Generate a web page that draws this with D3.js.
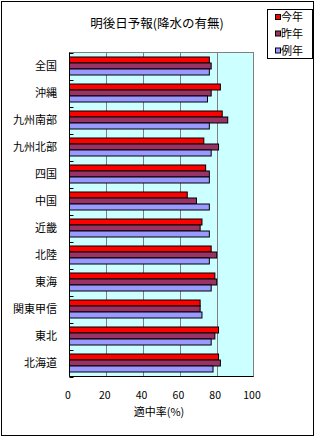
<!DOCTYPE html>
<html><head><meta charset="utf-8">
<script src="https://cdn.jsdelivr.net/npm/d3@7"></script>
<style>body{margin:0;background:#fff}svg{display:block}text{font-family:"Noto Sans CJK JP","Noto Sans",sans-serif;fill:#000}</style>
</head><body><svg id="c" width="316" height="438"></svg>
<script>
const categories = ["全国","沖縄","九州南部","九州北部","四国","中国","近畿","北陸","東海","関東甲信","東北","北海道"];
const seriesNames = ["今年","昨年","例年"];
const thisYear = [76,82,83,73,74,64,72,77,79,71,81,81];
const lastYear = [77,77,86,81,76,69,71,80,80,71,79,82];
const normalYear = [76,75,76,77,76,76,76,76,77,72,77,78];
const xTicks = [0,20,40,60,80,100];
const colors = ["#FF0000","#993366","#9999FF"];
const title = "明後日予報(降水の有無)";
const xTitle = "適中率(%)";

const series = [thisYear, lastYear, normalYear];
const svg = d3.select("#c");
svg.append("rect").attr("x",1.5).attr("y",1.5).attr("width",312).attr("height",434).attr("fill","#fff").attr("stroke","#000").attr("stroke-width",1);

const L=69.5, R=253.5, T=52.5, B=376.5;
const x = d3.scaleLinear().domain([0,100]).range([L,R]);
const y = d3.scaleBand().domain(categories).range([T,B]).paddingInner(0.333).paddingOuter(0.1665);
const yi = d3.scaleBand().domain(d3.range(3)).range([0,y.bandwidth()]);

svg.append("rect").attr("x",L).attr("y",T).attr("width",R-L).attr("height",B-T).attr("fill","#CCFFFF").attr("stroke","#808080");
svg.append("g").selectAll("line").data(xTicks.slice(1,-1)).join("line")
  .attr("x1",d=>Math.round(x(d))+0.5).attr("x2",d=>Math.round(x(d))+0.5).attr("y1",T).attr("y2",B).attr("stroke","#808080");

const g = svg.append("g");
categories.forEach((c,i)=>{
  series.forEach((s,j)=>{
    g.append("rect").attr("x",L).attr("y",y(c)+yi(j)).attr("width",x(s[i])-L).attr("height",yi.bandwidth())
     .attr("fill",colors[j]).attr("stroke","#000").attr("stroke-width",1);
  });
});

// category axis
svg.append("line").attr("x1",L).attr("x2",L).attr("y1",T).attr("y2",B).attr("stroke","#000");
svg.append("line").attr("x1",L).attr("x2",R).attr("y1",B).attr("y2",B).attr("stroke","#000");
const step = (B-T)/categories.length;
svg.append("g").selectAll("line").data(d3.range(categories.length+1)).join("line")
  .attr("x1",L).attr("x2",L+4).attr("y1",d=>Math.round(T+d*step)+0.5).attr("y2",d=>Math.round(T+d*step)+0.5).attr("stroke","#000");

svg.append("g").selectAll("text").data(categories).join("text")
  .attr("x",57).attr("y",d=>y(d)+y.bandwidth()/2).attr("dy","0.36em").attr("text-anchor","end")
  .attr("font-size",11).text(d=>d);

svg.append("g").selectAll("text").data(xTicks).join("text")
  .attr("x",d=>x(d)-1.5).attr("y",395).attr("dy","0.36em").attr("text-anchor","middle")
  .attr("font-size",10.5).text(d=>d);

svg.append("text").attr("x",159).attr("y",412).attr("dy","0.36em").attr("text-anchor","middle").attr("font-size",11).text(xTitle);
svg.append("text").attr("x",157).attr("y",23.5).attr("dy","0.36em").attr("text-anchor","middle").attr("font-size",12.5).text(title);

// legend
svg.append("rect").attr("x",267.5).attr("y",9.5).attr("width",45).attr("height",49).attr("fill","#fff").attr("stroke","#000");
const ly = [17.5,34,51];
seriesNames.forEach((n,j)=>{
  svg.append("rect").attr("x",275.5).attr("y",ly[j]-3).attr("width",5).attr("height",5).attr("fill",colors[j]).attr("stroke","#000");
  svg.append("text").attr("x",281).attr("y",ly[j]).attr("dy","0.36em").attr("font-size",11).text(n);
});
</script></body></html>
